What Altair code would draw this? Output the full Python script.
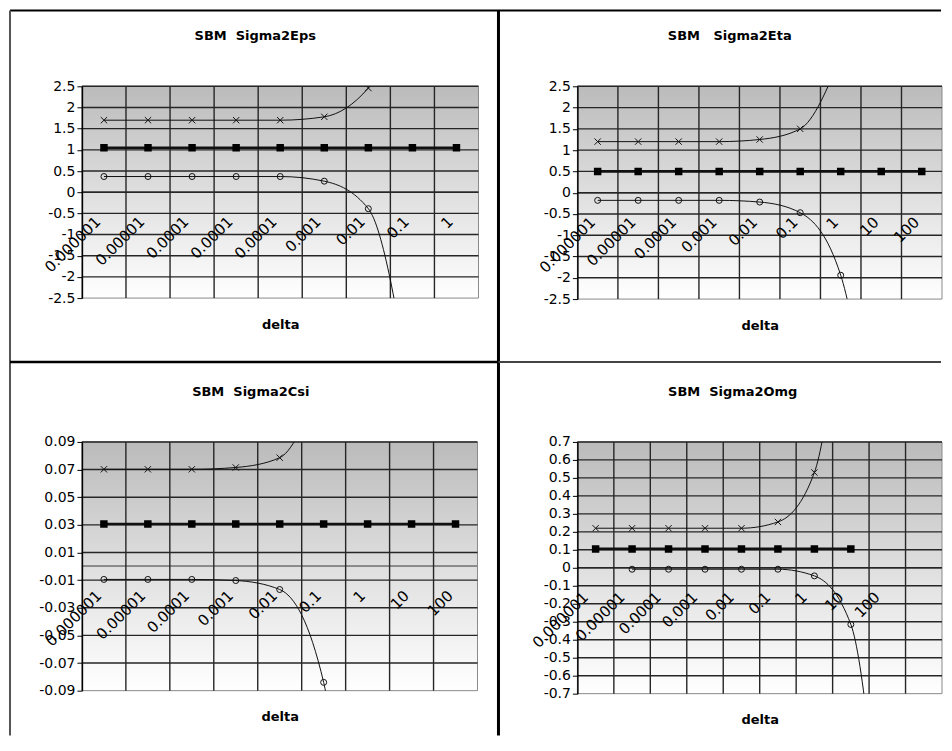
import altair as alt
import pandas as pd

# ---------------- data ----------------
eps_labels = ["0.000001", "0.00001", "0.0001", "0.0001", "0.0001", "0.001", "0.01", "0.1", "1"]
eps_upper = [1.70, 1.70, 1.70, 1.70, 1.70, 1.78, 2.46, 4.2, None]
eps_mid = [1.05, 1.05, 1.05, 1.05, 1.05, 1.05, 1.05, 1.05, 1.05]
eps_lower = [0.37, 0.37, 0.37, 0.37, 0.37, 0.26, -0.39, -5.0, None]
eps_ticks = [-2.5, -2, -1.5, -1, -0.5, 0, 0.5, 1, 1.5, 2, 2.5]

eta_labels = ["0.000001", "0.00001", "0.0001", "0.001", "0.01", "0.1", "1", "10", "100"]
eta_upper = [1.20, 1.20, 1.20, 1.20, 1.25, 1.50, 3.2, None, None]
eta_mid = [0.5, 0.5, 0.5, 0.5, 0.5, 0.5, 0.5, 0.5, 0.5]
eta_lower = [-0.18, -0.18, -0.18, -0.18, -0.22, -0.47, -1.94, -7.5, None]
eta_ticks = [-2.5, -2, -1.5, -1, -0.5, 0, 0.5, 1, 1.5, 2, 2.5]

csi_labels = ["0.000001", "0.00001", "0.0001", "0.001", "0.01", "0.1", "1", "10", "100"]
csi_upper = [0.0702, 0.0702, 0.0702, 0.0715, 0.0786, 0.14, None, None, None]
csi_mid = [0.0306, 0.0306, 0.0306, 0.0306, 0.0306, 0.0306, 0.0306, 0.0306, 0.0306]
csi_lower = [-0.0095, -0.0095, -0.0095, -0.0103, -0.0168, -0.084, -0.5, None, None]
csi_ticks = [-0.09, -0.07, -0.05, -0.03, -0.01, 0.01, 0.03, 0.05, 0.07, 0.09]

omg_labels = ["0.000001", "0.00001", "0.0001", "0.001", "0.01", "0.1", "1", "10", "100", ""]
omg_upper = [0.22, 0.22, 0.22, 0.22, 0.22, 0.255, 0.53, 2.0, None, None]
omg_mid = [0.105, 0.105, 0.105, 0.105, 0.105, 0.105, 0.105, 0.105, None, None]
omg_lower = [None, -0.008, -0.008, -0.008, -0.008, -0.008, -0.045, -0.315, -2.0, None]
omg_ticks = [-0.7, -0.6, -0.5, -0.4, -0.3, -0.2, -0.1, 0, 0.1, 0.2, 0.3, 0.4, 0.5, 0.6, 0.7]

titles = ["SBM\u00a0 Sigma2Eps", "SBM\u00a0\u00a0 Sigma2Eta", "SBM\u00a0 Sigma2Csi", "SBM\u00a0 Sigma2Omg"]

FONT = "DejaVu Sans"
GRID = "#262626"
INK = "#111111"
GRADIENT = {
    "gradient": "linear", "x1": 0, "y1": 0, "x2": 0, "y2": 1,
    "stops": [{"offset": 0, "color": "#bbbbbb"}, {"offset": 0.55, "color": "#e2e2e2"},
              {"offset": 1, "color": "#ffffff"}],
}
CROSS = "M-1,-1L1,1M-1,1L1,-1"
SQ2 = 2 ** 0.5
one_row = pd.DataFrame({"a": [0]})


def build_panel(title, title_dx, labels, upper, mid, lower, y_domain, y_ticks,
                w, h, lab_ox, lab_oy, decor=()):
    n = len(labels)
    df = pd.DataFrame({"idx": list(range(n)), "label": labels, "upper": upper,
                       "mid": mid, "lower": lower, "zero": [0] * n})
    hgrid = pd.DataFrame({"v": [t for t in y_ticks if t != min(y_ticks)]})
    vgrid = pd.DataFrame({"b": [k + 0.5 for k in range(n - 1)]})
    tdf = pd.DataFrame({"t": [title]})

    xscale = alt.Scale(domain=[-0.5, n - 0.5], nice=False, zero=False)
    yscale = alt.Scale(domain=y_domain, nice=False, zero=False)
    xaxis = alt.Axis(title="delta", labels=False, ticks=False, domain=False, grid=False,
                     titlePadding=20, titleFont=FONT, titleFontSize=13,
                     titleFontWeight="bold", titleColor="black")
    yaxis = alt.Axis(title=None, values=y_ticks, grid=False, domain=True,
                     domainColor="black", domainWidth=1.5, ticks=True, tickColor="black",
                     tickSize=5, tickWidth=1, labelExpr="'' + datum.value", labelFont=FONT,
                     labelFontSize=14, labelColor="black", labelPadding=2,
                     labelOverlap=False, labelFlush=False, zindex=1)

    def X(f):
        return alt.X(f, type="quantitative", scale=xscale, axis=xaxis)

    def Y(f):
        return alt.Y(f, type="quantitative", scale=yscale, axis=yaxis)

    bg = alt.Chart(one_row).mark_rect(fill=GRADIENT, stroke="#8a8a8a", strokeWidth=1).encode(
        x=alt.value(0), x2=alt.value(w), y=alt.value(0), y2=alt.value(h))
    zero = alt.Chart(df).mark_rule(color="#8a8a8a", strokeWidth=1).encode(y=Y("zero"))
    hg = alt.Chart(hgrid).mark_rule(color=GRID, strokeWidth=1.4).encode(y=Y("v"))
    vg = alt.Chart(vgrid).mark_rule(color=GRID, strokeWidth=1.4).encode(x=X("b"))

    mid_line = alt.Chart(df).mark_line(color=INK, strokeWidth=2.6, clip=True,
                                       interpolate="monotone").encode(x=X("idx"), y=Y("mid"))
    up_line = alt.Chart(df).mark_line(color=INK, strokeWidth=1, clip=True,
                                      interpolate="monotone").encode(x=X("idx"), y=Y("upper"))
    lo_line = alt.Chart(df).mark_line(color=INK, strokeWidth=1, clip=True,
                                      interpolate="monotone").encode(x=X("idx"), y=Y("lower"))
    sq = alt.Chart(df).mark_point(shape="square", size=56, filled=True, color="black",
                                  opacity=1, clip=True).encode(x=X("idx"), y=Y("mid"))
    cr = alt.Chart(df).mark_point(shape=CROSS, size=40, filled=False, color=INK,
                                  strokeWidth=1, opacity=1, clip=True).encode(x=X("idx"), y=Y("upper"))
    ci = alt.Chart(df).mark_point(shape="circle", size=36, filled=False, color=INK,
                                  strokeWidth=1, opacity=1, clip=True).encode(x=X("idx"), y=Y("lower"))

    dx = (lab_ox - lab_oy) / SQ2
    dy = (lab_ox + lab_oy) / SQ2
    lab = alt.Chart(df).mark_text(angle=315, align="right", baseline="middle", dx=dx, dy=dy,
                                  font=FONT, fontSize=15, color="black").encode(
        x=X("idx"), y=Y("zero"), text="label:N")

    ttl = alt.Chart(tdf).mark_text(align="center", baseline="middle", font=FONT, fontSize=13,
                                   fontWeight="bold", color="black").encode(
        x=alt.value(w / 2 + title_dx), y=alt.value(-50), text="t:N")

    layers = [bg, zero, hg, vg, mid_line, up_line, lo_line, sq, cr, ci, lab, ttl] + list(decor)
    return alt.layer(*layers).properties(width=w, height=h)


def seg(x, y, x2=None, y2=None, color="black", width=2):
    enc = {"x": alt.value(x), "y": alt.value(y)}
    if x2 is not None:
        enc["x2"] = alt.value(x2)
    if y2 is not None:
        enc["y2"] = alt.value(y2)
    return alt.Chart(one_row).mark_rule(color=color, strokeWidth=width).encode(**enc)


frame = [
    seg(-72, -76, x2=860, color="black", width=2),
    seg(-72, -76, y2=650, color="#555555", width=2),
    seg(417, -76, y2=650, color="black", width=3),
    seg(-72, 276, x2=417, color="black", width=2.5),
    seg(417, 276, x2=860, color="#444444", width=2),
]

p1 = build_panel(titles[0], -25, eps_labels, eps_upper, eps_mid, eps_lower,
                 [-2.5, 2.5], eps_ticks, 397, 212, -6, 27, decor=frame)
p2 = build_panel(titles[1], -30, eta_labels, eta_upper, eta_mid, eta_lower,
                 [-2.5, 2.5], eta_ticks, 365, 213, -5, 27)
p3 = build_panel(titles[2], -29, csi_labels, csi_upper, csi_mid, csi_lower,
                 [-0.09, 0.09], csi_ticks, 396, 249, -5, 27)
p4 = build_panel(titles[3], -27, omg_labels, omg_upper, omg_mid, omg_lower,
                 [-0.7, 0.7], omg_ticks, 365, 252, -10, 27)

chart = alt.concat(p1, p2, p3, p4, columns=2, spacing={"row": 104, "column": 99},
                   bounds="flush", align="all").properties(padding=0).configure_view(
    stroke="transparent")

chart.save("out.html", embed_options={"renderer": "svg", "actions": False})
